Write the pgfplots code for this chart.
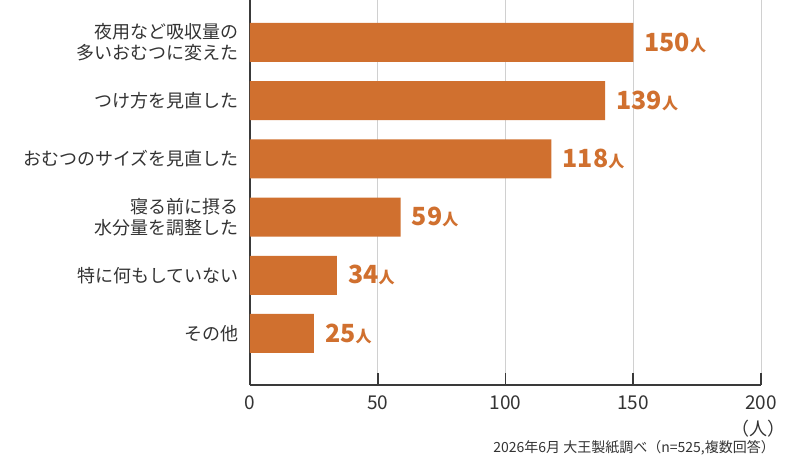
\documentclass[border=0pt]{standalone}
\usepackage{fontspec}
\setmainfont{Noto Sans CJK JP}
\usepackage{pgfplots}
\pgfplotsset{compat=1.18}

\definecolor{barc}{HTML}{D0702F}
\definecolor{txt}{HTML}{333333}
\definecolor{axc}{HTML}{3A3A3A}
\definecolor{gridc}{HTML}{D0D0D0}

\begin{document}
\begin{tikzpicture}
\path[use as bounding box] (-250pt,-86pt) rectangle (550pt,385pt);
\begin{axis}[
    name=ax,
    at={(0,0)}, anchor=south west,
    xbar,
    scale only axis,
    width=511pt, height=385pt,
    xmin=0, xmax=200,
    ymin=-0.885, ymax=5.73,
    bar width=0.67,
    axis x line*=bottom,
    axis y line*=left,
    axis line style={line width=1.6pt, draw=axc},
    xtick={0,50,100,150,200},
    ytick={0,1,2,3,4,5},
    yticklabels={その他, 特に何もしていない, {寝る前に摂る\\水分量を調整した}, おむつのサイズを見直した, つけ方を見直した, {夜用など吸収量の\\多いおむつに変えた}},
    yticklabel style={align=right, text=txt, font=\fontsize{18}{21}\selectfont, xshift=4pt},
    xticklabel style={text=txt, font=\fontsize{19}{19}\selectfont, yshift=-7pt},
    /pgf/number format/assume math mode=true,
    y tick style={draw=none},
    x tick style={line width=1.6pt, draw=axc},
    xtick align=inside,
    major tick length=12pt,
    xmajorgrids,
    grid style={gridc, line width=0.8pt},
    point meta=x,
    nodes near coords={{\fontsize{25}{25}\selectfont\bfseries\pgfmathprintnumber{\pgfplotspointmeta}}{\fontsize{16}{16}\selectfont\bfseries 人}},
    nodes near coords style={anchor=west, text=barc, inner sep=0pt, xshift=11pt},
]
\addplot[draw=none, fill=barc] coordinates {
    (25,0)
    (34,1)
    (59,2)
    (118,3)
    (139,4)
    (150,5)
};
\end{axis}
\node[anchor=north, text=txt, font=\fontsize{18}{18}\selectfont, inner sep=0pt] at ([xshift=-3pt, yshift=-35pt]ax.south east) {（人）};
\node[anchor=east, text=txt, font=\fontsize{14}{14}\selectfont, inner sep=0pt] at ([xshift=14pt, yshift=-63pt]ax.south east) {2026年6月 大王製紙調べ（n=525,複数回答）};
\end{tikzpicture}
\end{document}
